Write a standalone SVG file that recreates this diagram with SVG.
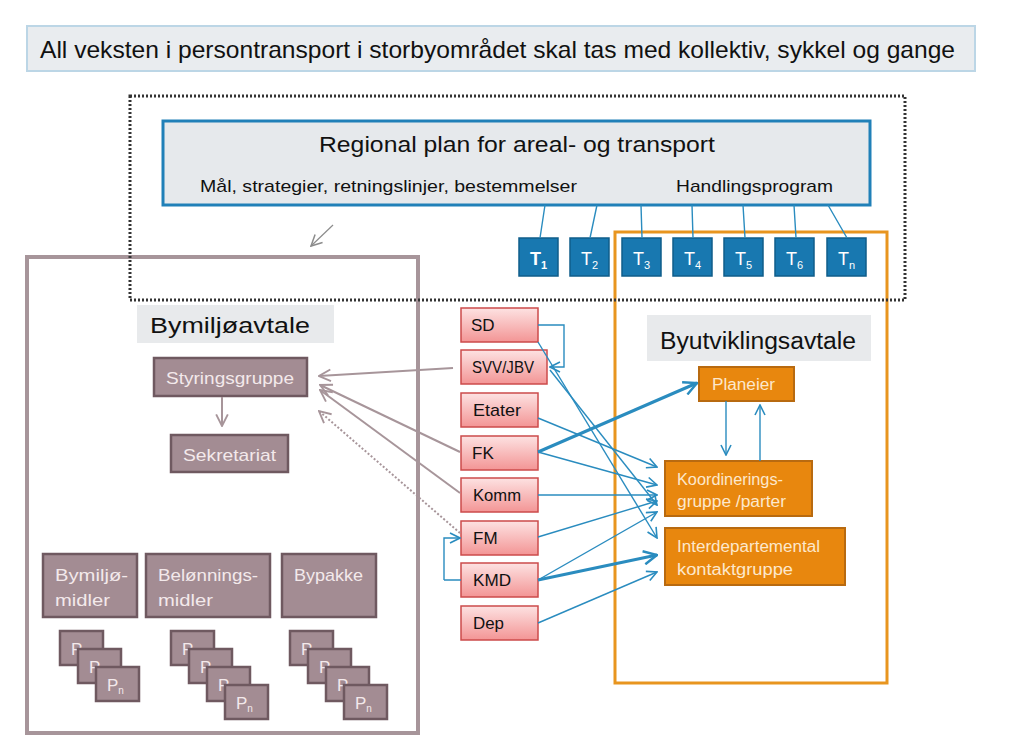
<svg xmlns="http://www.w3.org/2000/svg" width="1024" height="735" viewBox="0 0 1024 735">
<defs>
<linearGradient id="pink" x1="0" y1="0" x2="0" y2="1">
<stop offset="0" stop-color="#fde2e2"/>
<stop offset="1" stop-color="#f39595"/>
</linearGradient>
<marker id="ab" viewBox="0 0 12 12" refX="11" refY="6" markerWidth="12" markerHeight="12" markerUnits="userSpaceOnUse" orient="auto">
<path d="M1,1 L11,6 L1,11" fill="none" stroke="#2a8cbf" stroke-width="1.6"/>
</marker>
<marker id="abk" viewBox="0 0 12 12" refX="11" refY="6" markerWidth="16" markerHeight="16" markerUnits="userSpaceOnUse" orient="auto">
<path d="M1,1 L11,6 L1,11" fill="none" stroke="#2a8cbf" stroke-width="1.8"/>
</marker>
<marker id="ag" viewBox="0 0 12 12" refX="11" refY="6" markerWidth="14" markerHeight="14" markerUnits="userSpaceOnUse" orient="auto">
<path d="M1,1 L11,6 L1,11" fill="none" stroke="#a7959a" stroke-width="1.6"/>
</marker>
<marker id="agr" viewBox="0 0 12 12" refX="11" refY="6" markerWidth="13" markerHeight="13" markerUnits="userSpaceOnUse" orient="auto">
<path d="M1,1 L11,6 L1,11" fill="none" stroke="#8c8c8c" stroke-width="1.4"/>
</marker>
</defs>
<style>
text{font-family:"Liberation Sans",Arial,sans-serif;}
.mv{fill:#a38c93;stroke:#6f5960;stroke-width:2.5;}
.mt{fill:#f3e9eb;font-size:17px;}
.pk{fill:url(#pink);stroke:#cc4b4b;stroke-width:1.5;}
.pt{fill:#111;font-size:17px;}
.or{fill:#e8870e;stroke:#b86a10;stroke-width:2;}
.ot{fill:#fde8cc;font-size:16px;}
.tb{fill:#1878b0;stroke:#0f5d8a;stroke-width:1.5;}
.tt{fill:#fff;font-size:18px;}
.ts{font-size:11px;}
.bl{fill:none;stroke:#2a8cbf;stroke-width:1.4;}
.blk{fill:none;stroke:#2a8cbf;stroke-width:3;}
.gl{fill:none;stroke:#a7959a;stroke-width:2;}
</style>
<rect width="1024" height="735" fill="#fff"/>

<g id="title">
<rect x="27" y="26" width="948" height="45" fill="#e9ecef" stroke="#bcd6e6" stroke-width="2"/>
<text x="40" y="58" font-size="24" fill="#111" textLength="915" lengthAdjust="spacingAndGlyphs">All veksten i persontransport i storbyområdet skal tas med kollektiv, sykkel og gange</text>
</g>

<g id="frames">
<rect x="27" y="257" width="391" height="476" fill="none" stroke="#a7959a" stroke-width="4"/>
<rect x="615" y="232" width="272" height="451" fill="none" stroke="#e8951f" stroke-width="3"/>
<rect x="130" y="96" width="775" height="204" fill="none" stroke="#333" stroke-width="3" stroke-dasharray="2,2"/>
</g>

<g id="regional-plan">
<rect x="163" y="121" width="707" height="84" fill="#e6e9ec" stroke="#2080b8" stroke-width="3"/>
<text x="319" y="152" font-size="22" fill="#111" textLength="396" lengthAdjust="spacingAndGlyphs">Regional plan for areal- og transport</text>
<text x="200" y="192" font-size="17" fill="#111" textLength="377" lengthAdjust="spacingAndGlyphs">Mål, strategier, retningslinjer, bestemmelser</text>
<text x="676" y="192" font-size="17" fill="#111" textLength="157" lengthAdjust="spacingAndGlyphs">Handlingsprogram</text>
</g>

<g id="T-boxes">
<g id="T1"><rect class="tb" x="519" y="238" width="39" height="38"/><text class="tt" x="530" y="265" font-weight="bold">T<tspan class="ts" dy="4">1</tspan></text></g>
<g id="T2"><rect class="tb" x="570" y="238" width="39" height="38"/><text class="tt" x="581" y="265">T<tspan class="ts" dy="4">2</tspan></text></g>
<g id="T3"><rect class="tb" x="622" y="238" width="39" height="38"/><text class="tt" x="633" y="265">T<tspan class="ts" dy="4">3</tspan></text></g>
<g id="T4"><rect class="tb" x="673" y="238" width="39" height="38"/><text class="tt" x="684" y="265">T<tspan class="ts" dy="4">4</tspan></text></g>
<g id="T5"><rect class="tb" x="724" y="238" width="39" height="38"/><text class="tt" x="735" y="265">T<tspan class="ts" dy="4">5</tspan></text></g>
<g id="T6"><rect class="tb" x="775" y="238" width="39" height="38"/><text class="tt" x="786" y="265">T<tspan class="ts" dy="4">6</tspan></text></g>
<g id="Tn"><rect class="tb" x="827" y="238" width="39" height="38"/><text class="tt" x="838" y="265">T<tspan class="ts" dy="4">n</tspan></text></g>
</g>

<g id="bymiljoavtale-label">
<rect x="137" y="305" width="197" height="38" fill="#e8eaec"/>
<text x="150" y="333" font-size="22" fill="#111" textLength="160" lengthAdjust="spacingAndGlyphs">Bymiljøavtale</text>
</g>

<g id="styringsgruppe"><rect class="mv" x="154" y="358" width="153" height="38"/><text class="mt" x="166" y="384" textLength="128" lengthAdjust="spacingAndGlyphs">Styringsgruppe</text></g>
<g id="sekretariat"><rect class="mv" x="171" y="435" width="117" height="37"/><text class="mt" x="183" y="461" textLength="93" lengthAdjust="spacingAndGlyphs">Sekretariat</text></g>

<g id="bymiljomidler"><rect class="mv" x="43" y="554" width="94" height="63"/><text class="mt" x="55" y="581" textLength="73" lengthAdjust="spacingAndGlyphs">Bymiljø-</text><text class="mt" x="55" y="606" textLength="55" lengthAdjust="spacingAndGlyphs">midler</text></g>
<g id="belonningsmidler"><rect class="mv" x="146" y="554" width="124" height="63"/><text class="mt" x="158" y="581" textLength="100" lengthAdjust="spacingAndGlyphs">Belønnings-</text><text class="mt" x="158" y="606" textLength="55" lengthAdjust="spacingAndGlyphs">midler</text></g>
<g id="bypakke"><rect class="mv" x="282" y="554" width="94" height="63"/><text class="mt" x="294" y="581" textLength="69" lengthAdjust="spacingAndGlyphs">Bypakke</text></g>

<g id="p-stack-1">
<rect class="mv" x="60" y="631" width="43" height="34"/><text class="mt" x="71" y="655" font-size="16">P</text>
<rect class="mv" x="78" y="649" width="43" height="34"/><text class="mt" x="89" y="673" font-size="16">P</text>
<rect class="mv" x="96" y="667" width="43" height="34"/><text class="mt" x="107" y="691" font-size="16">P<tspan font-size="10" dy="3">n</tspan></text>
</g>
<g id="p-stack-2">
<rect class="mv" x="171" y="631" width="43" height="34"/><text class="mt" x="182" y="655" font-size="16">P</text>
<rect class="mv" x="189" y="649" width="43" height="34"/><text class="mt" x="200" y="673" font-size="16">P</text>
<rect class="mv" x="207" y="667" width="43" height="34"/><text class="mt" x="218" y="691" font-size="16">P</text>
<rect class="mv" x="225" y="685" width="43" height="34"/><text class="mt" x="236" y="709" font-size="16">P<tspan font-size="10" dy="3">n</tspan></text>
</g>
<g id="p-stack-3">
<rect class="mv" x="290" y="631" width="43" height="34"/><text class="mt" x="301" y="655" font-size="16">P</text>
<rect class="mv" x="308" y="649" width="43" height="34"/><text class="mt" x="319" y="673" font-size="16">P</text>
<rect class="mv" x="326" y="667" width="43" height="34"/><text class="mt" x="337" y="691" font-size="16">P</text>
<rect class="mv" x="344" y="685" width="43" height="34"/><text class="mt" x="355" y="709" font-size="16">P<tspan font-size="10" dy="3">n</tspan></text>
</g>

<g id="SD"><rect class="pk" x="461" y="308" width="77" height="34"/><text class="pt" x="471" y="331">SD</text></g>
<g id="SVV-JBV"><rect class="pk" x="461" y="350" width="86" height="34"/><text class="pt" x="472" y="373" textLength="62" lengthAdjust="spacingAndGlyphs">SVV/JBV</text></g>
<g id="Etater"><rect class="pk" x="461" y="393" width="77" height="34"/><text class="pt" x="473" y="416" textLength="48" lengthAdjust="spacingAndGlyphs">Etater</text></g>
<g id="FK"><rect class="pk" x="461" y="436" width="77" height="34"/><text class="pt" x="472" y="459">FK</text></g>
<g id="Komm"><rect class="pk" x="461" y="478" width="77" height="34"/><text class="pt" x="473" y="501" textLength="48" lengthAdjust="spacingAndGlyphs">Komm</text></g>
<g id="FM"><rect class="pk" x="461" y="521" width="77" height="34"/><text class="pt" x="473" y="544">FM</text></g>
<g id="KMD"><rect class="pk" x="461" y="563" width="77" height="34"/><text class="pt" x="473" y="586" textLength="38" lengthAdjust="spacingAndGlyphs">KMD</text></g>
<g id="Dep"><rect class="pk" x="461" y="606" width="77" height="34"/><text class="pt" x="473" y="629" textLength="31" lengthAdjust="spacingAndGlyphs">Dep</text></g>

<g id="byutviklingsavtale-label">
<rect x="647" y="315" width="224" height="46" fill="#e8eaec"/>
<text x="660" y="349" font-size="23" fill="#111" textLength="196" lengthAdjust="spacingAndGlyphs">Byutviklingsavtale</text>
</g>
<g id="planeier"><rect class="or" x="699" y="367" width="95" height="34"/><text class="ot" x="712" y="390" textLength="63" lengthAdjust="spacingAndGlyphs">Planeier</text></g>
<g id="koordinering"><rect class="or" x="665" y="461" width="147" height="55"/><text class="ot" x="677" y="485" textLength="106" lengthAdjust="spacingAndGlyphs">Koordinerings-</text><text class="ot" x="677" y="507" textLength="109" lengthAdjust="spacingAndGlyphs">gruppe /parter</text></g>
<g id="interdep"><rect class="or" x="665" y="528" width="180" height="57"/><text class="ot" x="677" y="552" textLength="143" lengthAdjust="spacingAndGlyphs">Interdepartemental</text><text class="ot" x="677" y="575" textLength="116" lengthAdjust="spacingAndGlyphs">kontaktgruppe</text></g>

<g id="connectors">
<path class="bl" stroke-width="1" d="M545,205 L540,238 M597,205 L590,238 M641,205 L642,238 M692,205 L693,238 M743,205 L745,238 M794,205 L796,238 M828,205 L847,238"/>
<path d="M333,225 L311,246" fill="none" stroke="#8c8c8c" stroke-width="1.2" marker-end="url(#agr)"/>
<path class="gl" d="M222,397 L222,426" marker-end="url(#ag)"/>
<path class="gl" d="M453,368 L319,376" marker-end="url(#ag)"/>
<path class="gl" d="M460,452 L320,385" marker-end="url(#ag)"/>
<path class="gl" d="M460,493 L320,390" marker-end="url(#ag)"/>
<path class="gl" d="M460,533 L319,411" stroke-dasharray="2,2" marker-end="url(#ag)"/>
<path class="bl" d="M538,325 L564,325 L564,367 L550,367" marker-end="url(#ab)"/>
<path class="bl" d="M444,580 L461,580 M444,580 L444,538 L460,538" marker-end="url(#ab)"/>
<path class="bl" d="M538,342 L657,538" marker-end="url(#ab)"/>
<path class="bl" d="M550,370 L657,505" marker-end="url(#ab)"/>
<path class="bl" d="M538,418 L657,467" marker-end="url(#ab)"/>
<path class="blk" d="M538,452 L697,383" marker-end="url(#abk)"/>
<path class="bl" d="M538,452 L657,485" marker-end="url(#ab)"/>
<path class="bl" d="M538,495 L657,495" marker-end="url(#ab)"/>
<path class="bl" d="M538,537 L657,501" marker-end="url(#ab)"/>
<path class="bl" d="M538,580 L657,512" marker-end="url(#ab)"/>
<path class="blk" stroke-width="2.5" d="M538,580 L657,555" marker-end="url(#abk)"/>
<path class="bl" d="M538,623 L657,572" marker-end="url(#ab)"/>
<path class="bl" d="M726,401 L726,455" marker-end="url(#ab)"/>
<path class="bl" d="M760,461 L760,405" marker-end="url(#ab)"/>
</g>
</svg>
